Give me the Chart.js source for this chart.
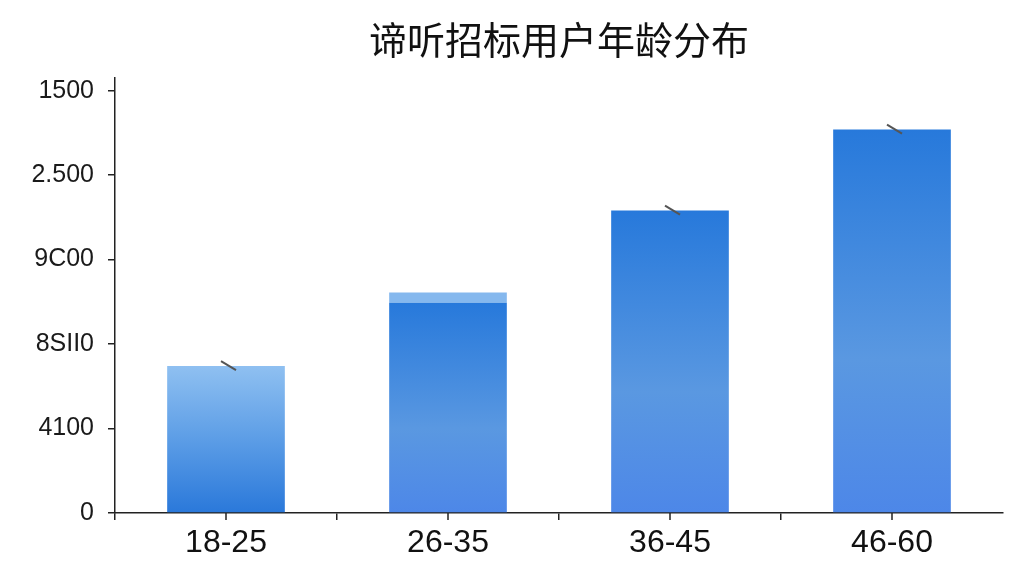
<!DOCTYPE html>
<html>
<head>
<meta charset="utf-8">
<script src="https://cdn.jsdelivr.net/npm/chart.js@4/dist/chart.umd.min.js"></script>
<style>
html,body{margin:0;padding:0;background:#fff;}
#wrap{width:1024px;height:576px;position:relative;}
</style>
</head>
<body>
<div id="wrap"><canvas id="c" width="1024" height="576"></canvas></div>
<script>
const titleText = '谛听招标用户年龄分布';
const categories = ['18-25', '26-35', '36-45', '46-60'];
const baseValues = [522, 747, 1074, 1362];
const capValues = [0, 36, 0, 0];
const markerFlags = [true, false, true, true];
const yTickValues = [0, 300, 600, 900, 1200, 1500];
const yTickLabels = ['0', '4100', '8SII0', '9C00', '2.500', '1500'];
const yMax = 1545;

function barGradient(ctx) {
  const chart = ctx.chart;
  const area = chart.chartArea;
  if (!area) return '#3a86dd';
  const ys = chart.scales.y;
  const i = ctx.dataIndex;
  const top = ys.getPixelForValue(baseValues[i]);
  const bottom = ys.getPixelForValue(0);
  const g = chart.ctx.createLinearGradient(0, top, 0, bottom);
  if (i === 0) {
    g.addColorStop(0, '#8fc0f1');
    g.addColorStop(0.5, '#5c9de6');
    g.addColorStop(1, '#2a78da');
  } else {
    g.addColorStop(0, '#2779db');
    g.addColorStop(0.6, '#5a98e1');
    g.addColorStop(1, '#4d87e8');
  }
  return g;
}

const extrasPlugin = {
  id: 'extras',
  afterDatasetsDraw(chart) {
    const c = chart.ctx;
    const meta = chart.getDatasetMeta(0);
    c.save();
    c.strokeStyle = '#555';
    c.lineWidth = 2;
    meta.data.forEach((bar, i) => {
      if (!markerFlags[i]) return;
      c.beginPath();
      c.moveTo(bar.x - 5, bar.y - 5);
      c.lineTo(bar.x + 10, bar.y + 4);
      c.stroke();
    });
    const xs = chart.scales.x;
    const yb = chart.chartArea.bottom;
    c.strokeStyle = '#222';
    c.lineWidth = 1.5;
    categories.forEach((_, i) => {
      const x = xs.getPixelForValue(i);
      c.beginPath();
      c.moveTo(x, yb);
      c.lineTo(x, yb + 7);
      c.stroke();
    });
    c.restore();
  },
  afterDraw(chart) {
    const c = chart.ctx;
    const a = chart.chartArea;
    c.save();
    c.font = '38px "Noto Sans CJK SC"';
    c.fillStyle = '#111';
    c.textAlign = 'center';
    c.textBaseline = 'middle';
    c.fillText(titleText, (a.left + a.right) / 2, 40);
    c.restore();
  }
};

new Chart(document.getElementById('c'), {
  type: 'bar',
  data: {
    labels: categories,
    datasets: [
      { data: baseValues, backgroundColor: barGradient, borderWidth: 0, barPercentage: 0.53, categoryPercentage: 1 },
      { data: capValues, backgroundColor: '#85b8ee', borderWidth: 0, barPercentage: 0.53, categoryPercentage: 1 }
    ]
  },
  options: {
    responsive: false,
    animation: false,
    devicePixelRatio: 1,
    layout: { padding: { left: 0, right: 21, top: 78, bottom: 0 } },
    plugins: { legend: { display: false }, title: { display: false }, tooltip: { enabled: false } },
    scales: {
      x: {
        stacked: true,
        afterFit(s) { s.height = 63; },
        border: { display: true, color: '#222', width: 1.5 },
        grid: {
          drawOnChartArea: false, drawTicks: true, tickLength: 7,
          color: (ctx) => ((ctx.index === undefined || ctx.index >= categories.length) ? 'rgba(0,0,0,0)' : '#222'),
          lineWidth: 1.5
        },
        ticks: { color: '#111', font: { family: '"Liberation Sans", Arial, sans-serif', size: 32 }, padding: 4 }
      },
      y: {
        stacked: true,
        min: 0,
        max: yMax,
        afterFit(s) { s.width = 115; },
        afterBuildTicks(s) { s.ticks = yTickValues.map(v => ({ value: v })); },
        border: { display: true, color: '#222', width: 1.5 },
        grid: { drawOnChartArea: false, drawTicks: true, tickLength: 7, color: '#222', lineWidth: 1.5 },
        ticks: {
          color: '#1a1a1a',
          font: { family: '"Liberation Sans", Arial, sans-serif', size: 25 },
          padding: 14,
          callback: (v) => { const k = yTickValues.indexOf(v); return k >= 0 ? yTickLabels[k] : ''; }
        }
      }
    }
  },
  plugins: [extrasPlugin]
});
</script>
</body>
</html>
